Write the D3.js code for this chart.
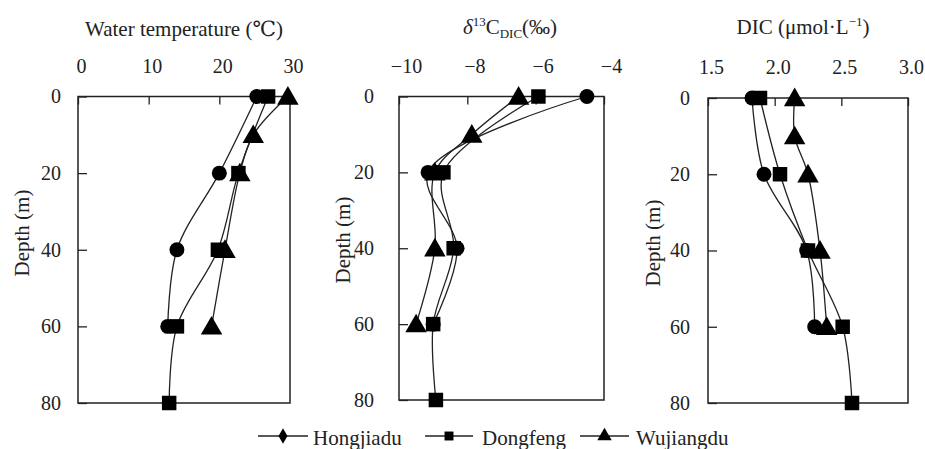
<!DOCTYPE html>
<html>
<head>
<meta charset="utf-8">
<script src="https://cdn.jsdelivr.net/npm/d3@7"></script>
<style>
  html, body { margin: 0; padding: 0; background: #fff; }
  svg { display: block; }
  svg text { font-family: "Liberation Serif", "DejaVu Serif", "Times New Roman", serif !important; fill: #222; }
</style>
</head>
<body>
<svg id="chart" width="925" height="449" font-family="Liberation Serif, DejaVu Serif, serif"></svg>
<script>
// ---- Data ----
const seriesNames = ["Hongjiadu", "Dongfeng", "Wujiangdu"];
const depthHongjiadu = [0, 20, 40, 60];
const depthDongfeng = [0, 20, 40, 60, 80];
const depthWujiangdu = [0, 10, 20, 40, 60];

const tempHongjiadu = [25.3, 20.0, 14.0, 12.7];
const tempDongfeng = [26.9, 22.7, 19.8, 14.0, 12.9];
const tempWujiangdu = [29.7, 24.8, 22.9, 20.8, 18.9];

const d13cHongjiadu = [-4.5, -9.15, -8.3, -9.0];
const d13cDongfeng = [-5.92, -8.7, -8.4, -9.0, -8.92];
const d13cWujiangdu = [-6.5, -7.87, -8.95, -8.95, -9.5];

const dicHongjiadu = [1.83, 1.92, 2.24, 2.30];
const dicDongfeng = [1.89, 2.04, 2.25, 2.51, 2.58];
const dicWujiangdu = [2.15, 2.15, 2.25, 2.34, 2.39];

const depthTicks = [0, 20, 40, 60, 80];
const tempTicks = [0, 10, 20, 30];
const d13cTicks = [-10, -8, -6, -4];
const dicTicks = [1.5, 2.0, 2.5, 3.0];

// ---- Layout ----
const svg = d3.select("#chart");
const ink = "#222";
const serif = "'Liberation Serif', 'DejaVu Serif', serif";

const panels = [
  { x0: 78, x1: 290, y0: 96.5, y1: 403, domain: [0, 30], ticks: tempTicks, fmt: d3.format("d"),
    labelDx: 3, yPad: 8, ylabX: 22, ylabY: 233,
    data: [tempHongjiadu, tempDongfeng, tempWujiangdu] },
  { x0: 399, x1: 604, y0: 96.5, y1: 400, domain: [-10, -4], ticks: d13cTicks, fmt: d3.format("d"),
    labelDx: 7, yPad: 16, ylabX: 343, ylabY: 240,
    data: [d13cHongjiadu, d13cDongfeng, d13cWujiangdu] },
  { x0: 708, x1: 908, y0: 98, y1: 403, domain: [1.5, 3.0], ticks: dicTicks, fmt: d3.format(".1f"),
    labelDx: 3, yPad: 9, ylabX: 653, ylabY: 243,
    data: [dicHongjiadu, dicDongfeng, dicWujiangdu] }
];
const depths = [depthHongjiadu, depthDongfeng, depthWujiangdu];
const markerTypes = [d3.symbolCircle, d3.symbolSquare, d3.symbolTriangle];
const markerSizes = [175, 210, 200];

panels.forEach(p => {
  const x = d3.scaleLinear().domain(p.domain).range([p.x0, p.x1]);
  const y = d3.scaleLinear().domain([0, 80]).range([p.y0, p.y1]);
  const g = svg.append("g");

  // top axis
  const top = g.append("g").attr("transform", `translate(0,${p.y0})`)
    .call(d3.axisTop(x).tickValues(p.ticks).tickFormat(p.fmt).tickSizeInner(-8).tickSizeOuter(0).tickPadding(24));
  top.attr("font-family", serif);
  top.select(".domain").remove();
  top.selectAll("line").attr("stroke", ink).attr("stroke-width", 1.3);
  top.selectAll("text").attr("font-size", 20).attr("fill", ink).attr("dx", p.labelDx);

  // left axis
  const left = g.append("g").attr("transform", `translate(${p.x0},0)`)
    .call(d3.axisLeft(y).tickValues(depthTicks).tickSizeInner(-9).tickSizeOuter(0).tickPadding(p.yPad + 9));
  left.attr("font-family", serif);
  left.select(".domain").remove();
  left.selectAll("line").attr("stroke", ink).attr("stroke-width", 1.3);
  left.selectAll("text").attr("font-size", 20).attr("fill", ink);

  // frame
  g.append("rect").attr("x", p.x0).attr("y", p.y0)
    .attr("width", p.x1 - p.x0).attr("height", p.y1 - p.y0)
    .attr("fill", "none").attr("stroke", ink).attr("stroke-width", 1.5);

  // y label
  g.append("text").attr("transform", `translate(${p.ylabX},${p.ylabY}) rotate(-90)`)
    .attr("text-anchor", "middle").attr("dy", "0.35em").attr("font-size", 21).text("Depth (m)");

  // lines
  const line = d3.line().curve(d3.curveCatmullRom.alpha(0.5));
  p.data.forEach((vals, si) => {
    const pts = vals.map((v, i) => [x(v), y(depths[si][i])]);
    g.append("path").attr("d", line(pts)).attr("fill", "none")
      .attr("stroke", ink).attr("stroke-width", 1.3);
  });
  // markers
  p.data.forEach((vals, si) => {
    vals.forEach((v, i) => {
      g.append("path")
        .attr("d", d3.symbol().type(markerTypes[si]).size(markerSizes[si])())
        .attr("transform", `translate(${x(v)},${y(depths[si][i]) + (si === 2 ? 2 : 0)})`)
        .attr("fill", "#000");
    });
  });
});

// titles
svg.append("text").attr("x", 184).attr("y", 36).attr("text-anchor", "middle")
  .attr("font-size", 21).text("Water temperature (\u2103)");

const t2 = svg.append("text").attr("x", 510).attr("y", 34).attr("text-anchor", "middle").attr("font-size", 21);
t2.append("tspan").attr("font-style", "italic").text("\u03B4");
t2.append("tspan").attr("font-size", 13).attr("dy", -8).text("13");
t2.append("tspan").attr("dy", 8).text("C");
t2.append("tspan").attr("font-size", 13).attr("dy", 4).text("DIC");
t2.append("tspan").attr("dy", -4).text("(\u2030)");

const t3 = svg.append("text").attr("x", 803).attr("y", 34).attr("text-anchor", "middle").attr("font-size", 21);
t3.append("tspan").text("DIC (\u03BCmol\u00B7L");
t3.append("tspan").attr("font-size", 13).attr("dy", -8).text("\u22121");
t3.append("tspan").attr("dy", 8).text(")");

// legend
const legendItems = [
  { name: seriesNames[0], x1: 258, x2: 308, type: d3.symbolDiamond, size: 70, tx: 313 },
  { name: seriesNames[1], x1: 425, x2: 473, type: d3.symbolSquare, size: 80, tx: 482 },
  { name: seriesNames[2], x1: 580, x2: 629, type: d3.symbolTriangle, size: 90, tx: 636 }
];
const ly = 436;
legendItems.forEach(it => {
  svg.append("line").attr("x1", it.x1).attr("x2", it.x2).attr("y1", ly).attr("y2", ly)
    .attr("stroke", ink).attr("stroke-width", 1.3);
  svg.append("path").attr("d", d3.symbol().type(it.type).size(it.size)())
    .attr("transform", `translate(${(it.x1 + it.x2) / 2},${ly})`).attr("fill", "#000");
  svg.append("text").attr("x", it.tx).attr("y", 445).attr("font-size", 21).text(it.name);
});
</script>
</body>
</html>
